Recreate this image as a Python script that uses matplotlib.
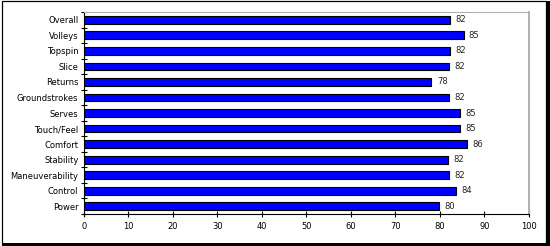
import numpy as np
import matplotlib
matplotlib.use("Agg")
import matplotlib.pyplot as plt
from matplotlib.patches import Rectangle

# categories listed top to bottom as in the chart
categories = ["Overall", "Volleys", "Topspin", "Slice", "Returns", "Groundstrokes",
              "Serves", "Touch/Feel", "Comfort", "Stability", "Maneuverability",
              "Control", "Power"]
scores = [82.2, 85.3, 82.2, 82.0, 78.1, 82.0, 84.6, 84.6, 86.0, 81.8, 82.0, 83.7, 79.8]
x_ticks = [0, 10, 20, 30, 40, 50, 60, 70, 80, 90, 100]

fig = plt.figure(figsize=(5.5, 2.46), dpi=100)
ax = fig.add_axes([0.1527, 0.130, 0.809, 0.821])

y = np.arange(len(categories))
ax.barh(y, scores, height=0.5, color="#0000FF", edgecolor="black", linewidth=0.8)

for yi, v in zip(y, scores):
    ax.text(v + 1.2, yi, f"{v:.0f}", va="center", ha="left", fontsize=6, color="#222222")

ax.set_ylim(len(categories) - 0.5, -0.5)
ax.set_xlim(0, 100)
ax.set_xticks(x_ticks)
ax.set_yticks(y)
ax.set_yticklabels(categories)
ax.set_yticks(np.arange(-0.5, len(categories), 1), minor=True)
ax.tick_params(axis="y", which="major", length=0, labelsize=6, pad=4)
ax.tick_params(axis="y", which="minor", length=5, direction="inout", width=0.8)
ax.tick_params(axis="x", which="major", length=5, direction="inout", width=0.8, labelsize=6, pad=3)

ax.spines["top"].set_color("#b0b0b0")
ax.spines["right"].set_color("#b0b0b0")
ax.spines["right"].set_linewidth(1.4)
for s in ["left", "bottom"]:
    ax.spines[s].set_color("black")
    ax.spines[s].set_linewidth(0.8)

# outer frame, heavier on right and bottom
fig.patches.append(Rectangle((0.003, 0.008), 0.990, 0.987, transform=fig.transFigure,
                             fill=False, edgecolor="black", linewidth=0.9))
fig.patches.append(Rectangle((0.994, 0.0), 0.006, 0.994, transform=fig.transFigure,
                             facecolor="black", edgecolor="none"))
fig.patches.append(Rectangle((0.003, 0.0), 0.997, 0.011, transform=fig.transFigure,
                             facecolor="black", edgecolor="none"))

fig.savefig("out.png", dpi=100)
